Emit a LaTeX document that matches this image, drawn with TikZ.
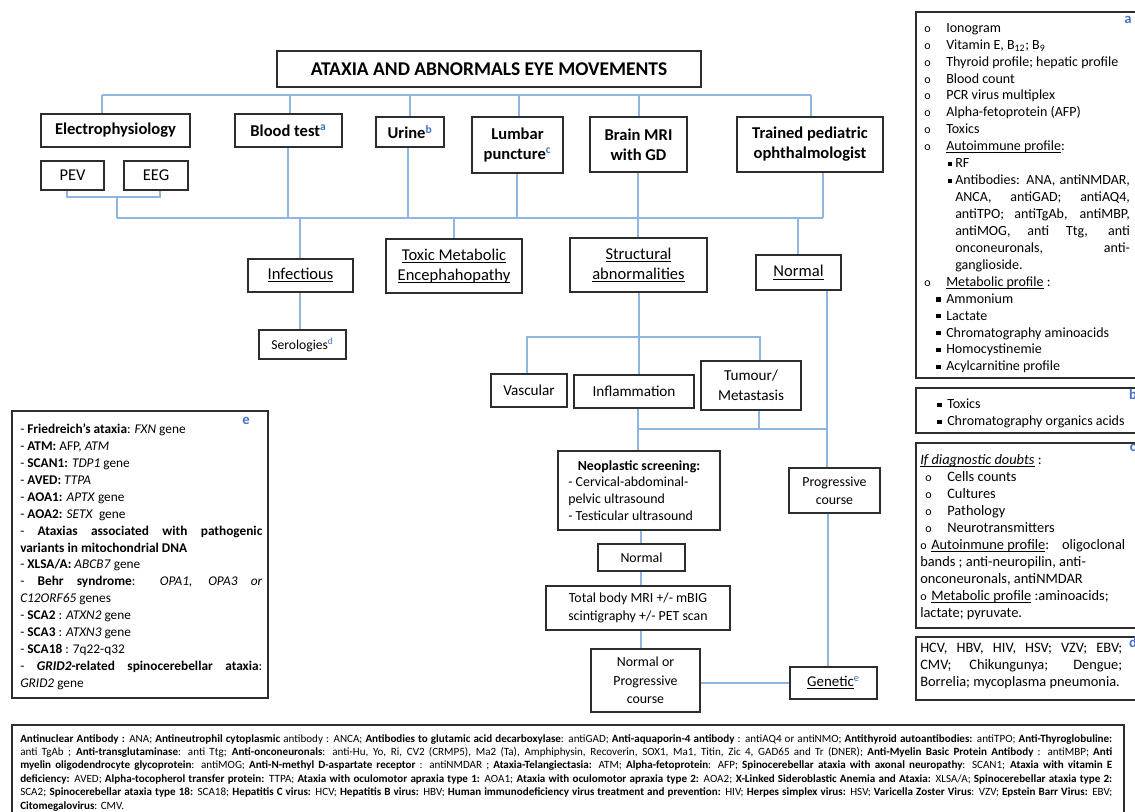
\documentclass[tikz,border=0pt]{standalone}
\usepackage{fontspec}
\setmainfont{Carlito}
\definecolor{linec}{RGB}{143,182,226}
\definecolor{boxc}{RGB}{45,45,45}
\definecolor{supc}{RGB}{68,114,196}
\newcommand\supl[1]{\textsuperscript{\textcolor{supc}{#1}}}
\newcommand\uln[1]{\underline{\raisebox{0pt}[\height][0pt]{#1}}}
\newcommand\jl[2]{\makebox[#1][s]{#2}}
\newcommand\bul{{\fontsize{9}{9}\selectfont o}}
\newcommand\sqs{\raisebox{0.28ex}{\rule{2.6pt}{2.6pt}}}
\newcommand\sqb{\raisebox{0.25ex}{\rule{3.2pt}{3.2pt}}}
\begin{document}
\begin{tikzpicture}[x=0.75pt,y=-0.75pt,
  atbox/.style n args={4}{minimum width={(#3-#1)*0.75pt}, minimum height={(#4-#2)*0.75pt}, at={({(#1+#3)/2},{(#2+#4)/2})}},
  box/.style={draw=boxc, line width=0.9pt, inner sep=0pt, align=center, text=black},
  conn/.style={draw=linec, line width=0.8pt},
  titlef/.style={font=\fontsize{14.6}{17}\selectfont\bfseries},
  mainf/.style={font=\fontsize{12.4}{15}\selectfont\bfseries},
  regf/.style={font=\fontsize{12.4}{15.5}\selectfont},
  midf/.style={font=\fontsize{11.4}{15}\selectfont},
  smallf/.style={font=\fontsize{10.4}{13}\selectfont},
  panel/.style={draw=boxc, line width=0.9pt, inner sep=0pt},
  ptext/.style={inner sep=0pt, align=left, anchor=north west, font=\fontsize{10.5}{12.7}\selectfont},
  plabel/.style={inner sep=0pt, text=supc, font=\fontsize{11}{11}\selectfont\bfseries}
]
\useasboundingbox (0,0) rectangle (1135,812);
\clip (0,0) rectangle (1135,812);

% ---------- main nodes ----------
\node[box, titlef, atbox={277}{51}{701}{87}] (title) {ATAXIA AND ABNORMALS EYE MOVEMENTS};
\node[box, mainf, atbox={41}{114}{190}{147}] (elec) {Electrophysiology};
\node[box, mainf, atbox={235}{114}{342}{147}] (blood) {Blood test\supl{a}};
\node[box, mainf, atbox={376}{117}{444}{147}] (urine) {Urine\supl{b}};
\node[box, mainf, atbox={472}{117}{563}{173}] (lumbar) {Lumbar\\puncture\supl{c}};
\node[box, mainf, atbox={590}{117}{687}{172}] (brain) {Brain MRI\\with GD};
\node[box, mainf, atbox={737}{117}{883}{172}] (trained) {Trained pediatric\\ophthalmologist};
\node[box, regf, atbox={41}{161}{104}{190}] (pev) {PEV};
\node[box, regf, atbox={124}{161}{188}{190}] (eeg) {EEG};

\node[box, regf, atbox={248}{259}{353}{292}] (inf) {\uln{Infectious}};
\node[box, regf, atbox={386}{239}{522}{293}] (toxic) {\uln{Toxic Metabolic}\\\uln{Encephahopathy}};
\node[box, regf, atbox={570}{238}{707}{292}] (struct) {\uln{Structural}\\\uln{abnormalities}};
\node[box, regf, atbox={756}{255}{841}{290}] (normR) {\uln{Normal}};
\node[box, font=\fontsize{10.2}{12}\selectfont, atbox={259}{330}{346}{359}] (sero) {Serologies\supl{d}};

\node[box, midf, atbox={491}{374}{567}{407}] (vasc) {Vascular};
\node[box, midf, atbox={574}{375}{694}{408}] (infl) {Inflammation};
\node[box, midf, atbox={701}{361}{801}{410}] (tum) {Tumour/\\Metastasis};

\node[box, font=\fontsize{10.4}{12.5}\selectfont, atbox={558}{451}{720}{530}] (neo)
  {\parbox{106pt}{\centering\textbf{Neoplastic screening:}\par\raggedright
   - Cervical-abdominal-\\pelvic ultrasound\\- Testicular ultrasound}};
\node[box, smallf, atbox={598}{544}{685}{571}] (normM) {Normal};
\node[box, font=\fontsize{10.4}{13}\selectfont, atbox={546}{586}{730}{630}] (total) {Total body MRI +/- mBIG\\scintigraphy +/- PET scan};
\node[box, font=\fontsize{10.4}{14}\selectfont, atbox={591}{649}{700}{712}] (np) {Normal or\\Progressive\\course};
\node[box, font=\fontsize{10.4}{13.5}\selectfont, atbox={789}{468}{880}{513}] (prog) {Progressive\\course};
\node[box, font=\fontsize{11.2}{13}\selectfont, atbox={790}{667}{877}{699}] (gen) {\uln{Genetic}\supl{e}};

% ---------- connectors ----------
\coordinate (t1) at (102,95); \coordinate (t2) at (290,95); \coordinate (t3) at (410,95);
\coordinate (t4) at (519,95); \coordinate (t5) at (639,95); \coordinate (t6) at (811,95);
\draw[conn] (t1) -- (t6);
\foreach \c/\n in {t1/elec, t2/blood, t3/urine, t4/lumbar, t5/brain, t6/trained}
  \draw[conn] (\c) -- (\c |- \n.north);

\coordinate (pe1) at (67,197); \coordinate (pe2) at (160,197); \coordinate (pe3) at (117,197);
\draw[conn] (pe1 |- pev.south) -- (pe1) -- (pe2) -- (pe2 |- eeg.south);

\coordinate (m0) at (117,218); \coordinate (m1) at (288,218); \coordinate (m2) at (408,218);
\coordinate (m3) at (517,218); \coordinate (m4) at (638,218); \coordinate (m5) at (823,218);
\coordinate (n1) at (300,218); \coordinate (n2) at (454,218); \coordinate (n4) at (798,218);
\draw[conn] (pe3) -- (m0);
\draw[conn] (m0) -- (m5);
\foreach \c/\n in {m1/blood, m2/urine, m3/lumbar, m5/trained}
  \draw[conn] (\c) -- (\c |- \n.south);
\draw[conn] (m4 |- brain.south) -- (m4 |- struct.north);
\foreach \c/\n in {n1/inf, n2/toxic, n4/normR}
  \draw[conn] (\c) -- (\c |- \n.north);
\draw[conn] (n1 |- inf.south) -- (n1 |- sero.north);

\coordinate (s1) at (527,337); \coordinate (s2) at (639,337); \coordinate (s3) at (760,337);
\draw[conn] (s2 |- struct.south) -- (s2 |- infl.north);
\draw[conn] (s1 |- vasc.north) -- (s1) -- (s3) -- (s3 |- tum.north);

\coordinate (u1) at (638,429); \coordinate (u2) at (759,429); \coordinate (u3) at (827,429);
\draw[conn] (u1 |- infl.south) -- (u1 |- neo.north);
\draw[conn] (u2 |- tum.south) -- (u2);
\draw[conn] (u1) -- (u3);
\draw[conn] (u3 |- normR.south) -- (u3 |- prog.north);

\coordinate (v) at (641,0);
\draw[conn] (v |- neo.south) -- (v |- normM.north);
\draw[conn] (v |- normM.south) -- (v |- total.north);
\draw[conn] (v |- total.south) -- (v |- np.north);
\coordinate (w) at (0,683);
\draw[conn] (w -| np.east) -- (w -| gen.west);
\coordinate (pg) at (828,0);
\draw[conn] (pg |- prog.south) -- (pg |- gen.north);

% ---------- panels ----------
\node[panel, atbox={916}{12}{1145}{378}] (pa) {};
\node[panel, atbox={916}{388}{1145}{433}] (pb) {};
\node[panel, atbox={916}{443}{1145}{628}] (pc) {};
\node[panel, atbox={916}{637}{1145}{700}] (pd) {};
\node[panel, atbox={12}{411}{268}{698}] (pe) {};
\node[panel, atbox={12}{725}{1124}{820}] (pf) {};

\node[plabel] (la) at (1128,20) {a};
\node[plabel] (lb) at (1133,394) {b};
\node[plabel] (lc) at (1133,448) {c};
\node[plabel] (ld) at (1133,642) {d};
\node[plabel] (le) at (246,421) {e};

\node[ptext] (ta) at (924,23) {%
\makebox[16.5pt][l]{\bul}Ionogram\\
\makebox[16.5pt][l]{\bul}Vitamin E, B\textsubscript{12}; B\textsubscript{9}\\
\makebox[16.5pt][l]{\bul}Thyroid profile; hepatic profile\\
\makebox[16.5pt][l]{\bul}Blood count\\
\makebox[16.5pt][l]{\bul}PCR virus multiplex\\
\makebox[16.5pt][l]{\bul}Alpha-fetoprotein (AFP)\\
\makebox[16.5pt][l]{\bul}Toxics\\
\makebox[16.5pt][l]{\bul}\uln{Autoimmune profile}:\\
\hspace*{18pt}\makebox[5.25pt][l]{\sqs}RF\\
\hspace*{18pt}\makebox[5.25pt][l]{\sqs}\jl{131pt}{Antibodies: ANA, antiNMDAR,}\\
\hspace*{23.25pt}\jl{131pt}{ANCA, antiGAD; antiAQ4,}\\
\hspace*{23.25pt}\jl{131pt}{antiTPO; antiTgAb, antiMBP,}\\
\hspace*{23.25pt}\jl{131pt}{antiMOG, anti Ttg, anti}\\
\hspace*{23.25pt}\jl{131pt}{onconeuronals, anti-}\\
\hspace*{23.25pt}ganglioside.\\
\makebox[16.5pt][l]{\bul}\uln{Metabolic profile} :\\
\hspace*{9pt}\makebox[7.5pt][l]{\sqb}Ammonium\\
\hspace*{9pt}\makebox[7.5pt][l]{\sqb}Lactate\\
\hspace*{9pt}\makebox[7.5pt][l]{\sqb}Chromatography aminoacids\\
\hspace*{9pt}\makebox[7.5pt][l]{\sqb}Homocystinemie\\
\hspace*{9pt}\makebox[7.5pt][l]{\sqb}Acylcarnitine profile};

\node[ptext] (tb) at (933,399) {%
\hspace*{3pt}\makebox[7.5pt][l]{\sqb}Toxics\\
\hspace*{3pt}\makebox[7.5pt][l]{\sqb}Chromatography organics acids};

\node[ptext, font=\fontsize{10.8}{12.7}\selectfont] (tc) at (920,454.5) {%
\textit{\uln{If diagnostic doubts}} :\\
\hspace*{3.75pt}\makebox[16.5pt][l]{\bul}Cells counts\\
\hspace*{3.75pt}\makebox[16.5pt][l]{\bul}Cultures\\
\hspace*{3.75pt}\makebox[16.5pt][l]{\bul}Pathology\\
\hspace*{3.75pt}\makebox[16.5pt][l]{\bul}Neurotransmitters\\
\makebox[8.25pt][l]{\bul}\jl{145.5pt}{\uln{Autoinmune profile}: oligoclonal}\\
bands ; anti-neuropilin, anti-\\
onconeuronals, antiNMDAR\\
\makebox[8.25pt][l]{\bul}\uln{Metabolic profile} :aminoacids;\\
lactate; pyruvate.};

\node[ptext, font=\fontsize{10.8}{12.7}\selectfont] (td) at (920,643) {%
\jl{151.5pt}{HCV, HBV, HIV, HSV; VZV; EBV;}\\
\jl{151.5pt}{CMV; Chikungunya; Dengue;}\\
Borrelia; mycoplasma pneumonia.};

\node[ptext, font=\fontsize{10}{12.7}\selectfont] (te) at (20,423.5) {%
- \textbf{Friedreich’s ataxia}: \textit{FXN} gene\\
- \textbf{ATM:} AFP, \textit{ATM}\\
- \textbf{SCAN1:} \textit{TDP1} gene\\
- \textbf{AVED:} \textit{TTPA}\\
- \textbf{AOA1:} \textit{APTX} gene\\
- \textbf{AOA2:} \textit{SETX}\ \ gene\\
\jl{181.5pt}{- \textbf{Ataxias associated with pathogenic}}\\
\textbf{variants in mitochondrial DNA}\\
- \textbf{XLSA/A:} \textit{ABCB7} gene\\
\jl{181.5pt}{- \textbf{Behr syndrome}: \textit{OPA1, OPA3 or}}\\
\textit{C12ORF65} genes\\
- \textbf{SCA2} : \textit{ATXN2} gene\\
- \textbf{SCA3} : \textit{ATXN3} gene\\
- \textbf{SCA18} : 7q22-q32\\
\jl{181.5pt}{- \textbf{\textit{GRID2}-related spinocerebellar ataxia}:}\\
\textit{GRID2} gene};

\node[ptext, font=\fontsize{8.3}{10.1}\selectfont] (tf) at (20,734) {%
\jl{819pt}{\textbf{Antinuclear Antibody :} ANA; \textbf{Antineutrophil cytoplasmic} antibody : ANCA; \textbf{Antibodies to glutamic acid decarboxylase}: antiGAD; \textbf{Anti-aquaporin-4 antibody} : antiAQ4 or antiNMO; \textbf{Antithyroid autoantibodies:} antiTPO; \textbf{Anti-Thyroglobuline:}}\\
\jl{819pt}{anti TgAb ; \textbf{Anti-transglutaminase}: anti Ttg; \textbf{Anti-onconeuronals}: anti-Hu, Yo, Ri, CV2 (CRMP5), Ma2 (Ta), Amphiphysin, Recoverin, SOX1, Ma1, Titin, Zic 4, GAD65 and Tr (DNER); \textbf{Anti-Myelin Basic Protein Antibody} : antiMBP; \textbf{Anti}}\\
\jl{819pt}{\textbf{myelin oligodendrocyte glycoprotein}: antiMOG; \textbf{Anti-N-methyl D-aspartate receptor} : antiNMDAR ; \textbf{Ataxia-Telangiectasia:} ATM; \textbf{Alpha-fetoprotein}: AFP; \textbf{Spinocerebellar ataxia with axonal neuropathy}: SCAN1; \textbf{Ataxia with vitamin E}}\\
\jl{819pt}{\textbf{deficiency:} AVED; \textbf{Alpha-tocopherol transfer protein:} TTPA; \textbf{Ataxia with oculomotor apraxia type 1:} AOA1; \textbf{Ataxia with oculomotor apraxia type 2:} AOA2; \textbf{X-Linked Sideroblastic Anemia and Ataxia:} XLSA/A; \textbf{Spinocerebellar ataxia type 2:}}\\
\jl{819pt}{SCA2; \textbf{Spinocerebellar ataxia type 18:} SCA18; \textbf{Hepatitis C virus:} HCV; \textbf{Hepatitis B virus:} HBV; \textbf{Human immunodeficiency virus treatment and prevention:} HIV; \textbf{Herpes simplex virus:} HSV; \textbf{Varicella Zoster Virus}: VZV; \textbf{Epstein Barr Virus:} EBV;}\\
\textbf{Citomegalovirus}: CMV.};
\end{tikzpicture}
\end{document}
